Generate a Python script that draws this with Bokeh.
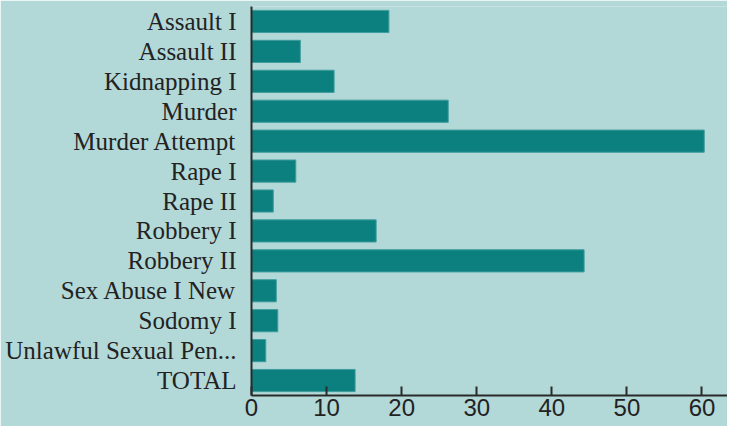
from bokeh.plotting import figure
from bokeh.models import Range1d, FixedTicker, FactorRange
from bokeh.embed import file_html
from bokeh.resources import INLINE

categories = ["Assault I", "Assault II", "Kidnapping I", "Murder", "Murder Attempt",
              "Rape I", "Rape II", "Robbery I", "Robbery II", "Sex Abuse I New",
              "Sodomy I", "Unlawful Sexual Pen...", "TOTAL"]
values = [18.3, 6.5, 11.0, 26.2, 60.3, 5.9, 2.9, 16.6, 44.3, 3.3, 3.5, 1.9, 13.8]
x_ticks = [0, 10, 20, 30, 40, 50, 60]

BG = "#b2d8d8"
BAR = "#0c7f7f"

p = figure(width=727, height=426, output_backend="svg", toolbar_location=None,
           y_range=FactorRange(factors=list(reversed(categories))),
           x_range=Range1d(0, 63.4),
           min_border_left=251, min_border_right=0, min_border_top=6, min_border_bottom=31)

p.hbar(y=categories, right=values, left=0, height=0.74,
       fill_color=BAR, line_color="#3f9c9c", line_width=1)

p.background_fill_color = BG
p.border_fill_color = BG
p.outline_line_color = None
p.xgrid.grid_line_color = None
p.ygrid.grid_line_color = None

xa = p.xaxis[0]
xa.ticker = FixedTicker(ticks=x_ticks)
xa.major_tick_in = 9
xa.major_tick_out = 0
xa.minor_tick_in = 0
xa.minor_tick_out = 0
xa.axis_line_color = "#2a2a2a"
xa.axis_line_width = 2
xa.major_tick_line_color = "#2a2a2a"
xa.major_tick_line_width = 2
xa.major_label_text_font = "Liberation Sans"
xa.major_label_text_font_size = "24px"
xa.major_label_text_color = "#222222"
xa.major_label_standoff = 3

ya = p.yaxis[0]
ya.major_tick_in = 0
ya.major_tick_out = 0
ya.axis_line_color = "#2a2a2a"
ya.axis_line_width = 2
ya.major_label_text_font = "Liberation Serif"
ya.major_label_text_font_size = "25px"
ya.major_label_text_color = "#222222"
ya.major_label_standoff = 15

open("out.html", "w").write(file_html(p, INLINE))
